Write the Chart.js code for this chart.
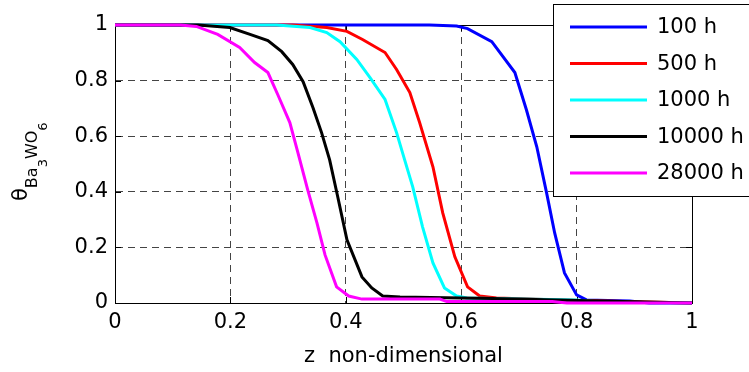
<!DOCTYPE html>
<html>
<head>
<meta charset="utf-8">
<script src="https://cdn.jsdelivr.net/npm/chart.js@4.4.0/dist/chart.umd.min.js"></script>
<style>
  html, body { margin: 0; padding: 0; background: #fff; }
</style>
</head>
<body>
<canvas id="chart" width="749" height="372"></canvas>
<script>
const seriesNames = ['100 h', '500 h', '1000 h', '10000 h', '28000 h'];
const seriesColors = ['#0000ff', '#ff0000', '#00ffff', '#000000', '#ff00ff'];

const xTickValues = [0, 0.2, 0.4, 0.6, 0.8, 1];
const xTickLabels = ['0', '0.2', '0.4', '0.6', '0.8', '1'];
const yTickValues = [0, 0.2, 0.4, 0.6, 0.8, 1];
const yTickLabels = ['0', '0.2', '0.4', '0.6', '0.8', '1'];

// 100 h
const z100 = [0, 0.545, 0.592, 0.611, 0.653, 0.693, 0.713, 0.731, 0.748, 0.762, 0.779, 0.80, 0.817, 0.892, 0.926, 1];
const theta100 = [1, 1, 0.996, 0.987, 0.94, 0.829, 0.695, 0.562, 0.396, 0.252, 0.108, 0.029, 0.011, 0.007, 0, 0];
// 500 h
const z500 = [0, 0.308, 0.367, 0.402, 0.429, 0.468, 0.488, 0.511, 0.528, 0.551, 0.568, 0.589, 0.611, 0.632, 0.661, 0.771, 1];
const theta500 = [1, 1, 0.991, 0.977, 0.948, 0.901, 0.84, 0.757, 0.649, 0.49, 0.324, 0.166, 0.058, 0.025, 0.018, 0.011, 0];
// 1000 h
const z1000 = [0, 0.28, 0.338, 0.367, 0.39, 0.419, 0.442, 0.468, 0.488, 0.502, 0.516, 0.533, 0.551, 0.571, 0.592, 0.61, 0.80, 0.84, 1];
const theta1000 = [1, 1, 0.991, 0.973, 0.94, 0.876, 0.811, 0.732, 0.613, 0.515, 0.418, 0.274, 0.144, 0.054, 0.025, 0.018, 0.011, 0.004, 0];
// 10000 h
const z10000 = [0, 0.144, 0.199, 0.234, 0.265, 0.289, 0.308, 0.326, 0.343, 0.358, 0.372, 0.386, 0.402, 0.428, 0.445, 0.464, 0.494, 0.655, 0.84, 1];
const theta10000 = [1, 1, 0.991, 0.966, 0.944, 0.904, 0.858, 0.796, 0.703, 0.613, 0.515, 0.382, 0.227, 0.094, 0.054, 0.025, 0.022, 0.016, 0.007, 0];
// 28000 h
const z28000 = [0, 0.113, 0.141, 0.178, 0.216, 0.242, 0.265, 0.282, 0.303, 0.317, 0.334, 0.35, 0.364, 0.384, 0.405, 0.428, 0.563, 0.575, 0.758, 0.783, 1];
const theta28000 = [1, 1, 0.995, 0.966, 0.919, 0.865, 0.829, 0.75, 0.649, 0.541, 0.407, 0.288, 0.173, 0.058, 0.025, 0.014, 0.014, 0.005, 0.005, 0, 0];

const zSeries = [z100, z500, z1000, z10000, z28000];
const thetaSeries = [theta100, theta500, theta1000, theta10000, theta28000];

const FONT = "'DejaVu Sans', sans-serif";

const datasets = seriesNames.map((name, i) => ({
  label: name,
  data: zSeries[i].map((z, k) => ({ x: z, y: thetaSeries[i][k] })),
  borderColor: seriesColors[i],
  backgroundColor: seriesColors[i],
  borderWidth: 3,
  pointRadius: 0,
  showLine: true,
  tension: 0,
  clip: 6,
  order: seriesNames.length - i
}));

// full box + inward ticks, under the curves
const boxPlugin = {
  id: 'box',
  beforeDatasetsDraw(chart) {
    const { ctx, chartArea: a, scales: { x, y } } = chart;
    ctx.save();
    ctx.strokeStyle = '#000';
    ctx.lineWidth = 1;
    ctx.strokeRect(Math.round(a.left) + 0.5, Math.round(a.top) + 0.5,
      Math.round(a.right - a.left), Math.round(a.bottom - a.top));
    ctx.beginPath();
    xTickValues.forEach(v => {
      const px = Math.round(x.getPixelForValue(v)) + 0.5;
      ctx.moveTo(px, a.bottom); ctx.lineTo(px, a.bottom - 6);
      ctx.moveTo(px, a.top); ctx.lineTo(px, a.top + 6);
    });
    yTickValues.forEach(v => {
      const py = Math.round(y.getPixelForValue(v)) + 0.5;
      ctx.moveTo(a.left, py); ctx.lineTo(a.left + 6, py);
      ctx.moveTo(a.right, py); ctx.lineTo(a.right - 6, py);
    });
    ctx.stroke();
    ctx.restore();
  }
};

// y axis label theta_{Ba_3 WO_6}, rotated
const yLabelPlugin = {
  id: 'ylabel',
  afterDraw(chart) {
    const ctx = chart.ctx;
    ctx.save();
    ctx.translate(27, 201);
    ctx.rotate(-Math.PI / 2);
    ctx.fillStyle = '#000';
    ctx.textBaseline = 'alphabetic';
    ctx.textAlign = 'left';
    let cx = 0;
    const part = (txt, size, dy) => {
      ctx.font = size + 'px ' + FONT;
      ctx.fillText(txt, cx, dy);
      cx += ctx.measureText(txt).width;
    };
    part('\u03b8', 21, 0);
    part('Ba', 16, 10);
    part('3', 13, 20);
    part('WO', 16, 10);
    part('6', 13, 20);
    ctx.restore();
  }
};

const legendPlugin = {
  id: 'boxLegend',
  afterDraw(chart) {
    const ctx = chart.ctx;
    ctx.save();
    ctx.fillStyle = '#fff';
    ctx.fillRect(553, 4, 220, 192);
    ctx.strokeStyle = '#000';
    ctx.lineWidth = 1;
    ctx.strokeRect(553.5, 4.5, 220, 192);
    ctx.font = '21px ' + FONT;
    ctx.textBaseline = 'middle';
    ctx.textAlign = 'left';
    seriesNames.forEach((name, i) => {
      const yy = 27 + i * 36.5;
      ctx.strokeStyle = seriesColors[i];
      ctx.lineWidth = 3;
      ctx.beginPath();
      ctx.moveTo(570, yy); ctx.lineTo(647, yy);
      ctx.stroke();
      ctx.fillStyle = '#000';
      ctx.fillText(name, 657, yy + 1);
    });
    ctx.restore();
  }
};

new Chart(document.getElementById('chart').getContext('2d'), {
  type: 'scatter',
  data: { datasets },
  options: {
    responsive: false,
    animation: false,
    layout: { padding: { left: 0, right: 57, top: 25, bottom: 0 } },
    plugins: { legend: { display: false }, tooltip: { enabled: false } },
    scales: {
      x: {
        type: 'linear', min: 0, max: 1,
        afterBuildTicks: axis => { axis.ticks = xTickValues.map(v => ({ value: v })); },
        afterFit: axis => { axis.height = 69; },
        ticks: {
          callback: (v, i) => xTickLabels[i],
          color: '#000', font: { family: FONT, size: 21 }, padding: 7, maxRotation: 0
        },
        grid: { color: '#444', lineWidth: 1, drawTicks: false },
        border: { display: true, color: '#000', width: 1, dash: [7, 5] },
        title: {
          display: true, text: 'z  non-dimensional', color: '#000',
          font: { family: FONT, size: 21 }, padding: { top: 0, bottom: 3 }
        }
      },
      y: {
        type: 'linear', min: 0, max: 1,
        afterBuildTicks: axis => { axis.ticks = yTickValues.map(v => ({ value: v })); },
        afterFit: axis => { axis.width = 115; },
        ticks: {
          callback: (v, i) => yTickLabels[i],
          color: '#000', font: { family: FONT, size: 21 }, padding: 7
        },
        grid: { color: '#444', lineWidth: 1, drawTicks: false },
        border: { display: true, color: '#000', width: 1, dash: [7, 5] }
      }
    }
  },
  plugins: [boxPlugin, yLabelPlugin, legendPlugin]
});
</script>
</body>
</html>
